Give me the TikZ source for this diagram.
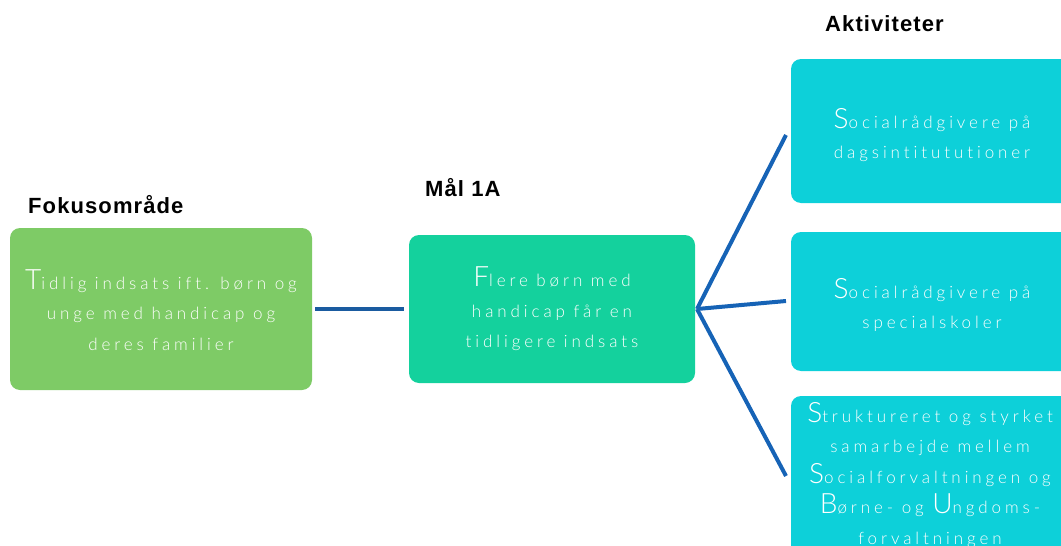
\documentclass[tikz,border=0pt]{standalone}
\usepackage{fontspec}
\IfFontExistsTF{Lato Light}{\newfontfamily\boxfont[LetterSpace=23,Ligatures=NoCommon]{Lato Light}\newfontfamily\bigfont{Lato Light}}{\newfontfamily\boxfont[LetterSpace=23,Ligatures=NoCommon]{Lato}\newfontfamily\bigfont{Lato}}
\newfontfamily\titlefont[LetterSpace=5]{Liberation Sans}
\definecolor{fokusgreen}{HTML}{7ECB66}
\definecolor{maalgreen}{HTML}{14D19D}
\definecolor{aktcyan}{HTML}{0DD0D9}
\definecolor{linkblue}{HTML}{1A5BA0}
\definecolor{linkblue2}{HTML}{1663B6}
\tikzset{
  box/.style={rounded corners=10pt, draw=none},
  boxtext/.style={text=white, align=center, inner sep=0pt,
    font={\boxfont\fontsize{17}{30.5}\selectfont\lineskiplimit=-50pt}},
  title/.style={anchor=base west, inner sep=0pt, font={\titlefont\bfseries\fontsize{22}{24}\selectfont}},
  link/.style={line width=4pt}
}
\newcommand{\BigL}[1]{{\bigfont\fontsize{28}{28}\selectfont #1}}
\begin{document}
\begin{tikzpicture}[x=1pt,y=-1pt]
\useasboundingbox (0,0) rectangle (1061,546);
% boxes
\fill[box, fokusgreen] (10,228) rectangle (312,390);
\fill[box, maalgreen] (409,235) rectangle (695,383);
\fill[box, aktcyan] (791,59) rectangle (1073,203);
\fill[box, aktcyan] (791,232) rectangle (1073,371);
\fill[box, aktcyan] (791,396) rectangle (1073,570);
% connector endpoints
\coordinate (f) at (315,309);
\coordinate (m) at (404,309);
\coordinate (mr) at (697,309);
\coordinate (a1) at (786,135);
\coordinate (a2) at (786,301);
\coordinate (a3) at (786,476);
\draw[link, linkblue] (f) -- (m);
\draw[link, linkblue2] (mr) -- (a1);
\draw[link, linkblue2] (mr) -- (a2);
\draw[link, linkblue2] (mr) -- (a3);
% titles
\node[title] (t1) at (28,213) {Fokusområde};
\node[title] (t2) at (425,196) {Mål 1A};
\node[title] (t3) at (825,31) {Aktiviteter};
% texts
\node[boxtext] (x1) at (161,310) {\BigL{T}idlig indsats ift. børn og\\ unge med handicap og\\ deres familier};
\node[boxtext] (x2) at (552,309) {\BigL{F}lere børn med\\ handicap får en\\ tidligere indsats};
\node[boxtext] (x3) at (932,135) {\BigL{S}ocialrådgivere på\\ dagsintitututioner};
\node[boxtext] (x4) at (932,305) {\BigL{S}ocialrådgivere på\\ specialskoler};
\node[boxtext] (x5) at (930,475) {\BigL{S}truktureret og styrket\\ samarbejde mellem\\ \BigL{S}ocialforvaltningen og\\ \BigL{B}ørne- og \BigL{U}ngdoms-\\ forvaltningen};
\end{tikzpicture}
\end{document}
